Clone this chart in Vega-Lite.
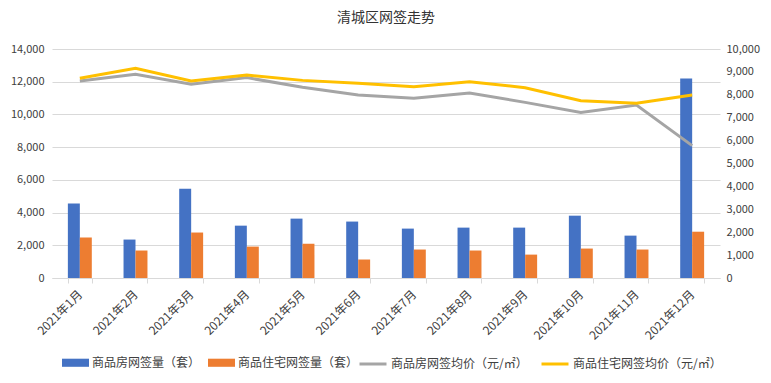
{
  "$schema": "https://vega.github.io/schema/vega-lite/v6.json",
  "width": 668,
  "height": 229,
  "autosize": {"type": "none"},
  "padding": {"left": 52, "top": 49, "right": 51, "bottom": 105},
  "background": "white",
  "title": {"text": "清城区网签走势", "fontSize": 14, "font": "Noto Sans CJK SC", "fontWeight": "normal", "color": "#333333", "offset": 18, "anchor": "middle"},
  "config": {"view": {"stroke": null}, "font": "Noto Sans CJK SC"},
  "datasets": {
    "bars": [
      {"month": "2021年1月", "series": "商品房网签量（套）", "value": 4550},
      {"month": "2021年1月", "series": "商品住宅网签量（套）", "value": 2480},
      {"month": "2021年2月", "series": "商品房网签量（套）", "value": 2350},
      {"month": "2021年2月", "series": "商品住宅网签量（套）", "value": 1680},
      {"month": "2021年3月", "series": "商品房网签量（套）", "value": 5460},
      {"month": "2021年3月", "series": "商品住宅网签量（套）", "value": 2780},
      {"month": "2021年4月", "series": "商品房网签量（套）", "value": 3200},
      {"month": "2021年4月", "series": "商品住宅网签量（套）", "value": 1920},
      {"month": "2021年5月", "series": "商品房网签量（套）", "value": 3630},
      {"month": "2021年5月", "series": "商品住宅网签量（套）", "value": 2100},
      {"month": "2021年6月", "series": "商品房网签量（套）", "value": 3450},
      {"month": "2021年6月", "series": "商品住宅网签量（套）", "value": 1130},
      {"month": "2021年7月", "series": "商品房网签量（套）", "value": 3020},
      {"month": "2021年7月", "series": "商品住宅网签量（套）", "value": 1740},
      {"month": "2021年8月", "series": "商品房网签量（套）", "value": 3080},
      {"month": "2021年8月", "series": "商品住宅网签量（套）", "value": 1680},
      {"month": "2021年9月", "series": "商品房网签量（套）", "value": 3080},
      {"month": "2021年9月", "series": "商品住宅网签量（套）", "value": 1430},
      {"month": "2021年10月", "series": "商品房网签量（套）", "value": 3810},
      {"month": "2021年10月", "series": "商品住宅网签量（套）", "value": 1800},
      {"month": "2021年11月", "series": "商品房网签量（套）", "value": 2590},
      {"month": "2021年11月", "series": "商品住宅网签量（套）", "value": 1740},
      {"month": "2021年12月", "series": "商品房网签量（套）", "value": 12190},
      {"month": "2021年12月", "series": "商品住宅网签量（套）", "value": 2830}
    ],
    "lines": [
      {"month": "2021年1月", "series": "商品房网签均价（元/㎡）", "value": 8600},
      {"month": "2021年1月", "series": "商品住宅网签均价（元/㎡）", "value": 8720},
      {"month": "2021年2月", "series": "商品房网签均价（元/㎡）", "value": 8900},
      {"month": "2021年2月", "series": "商品住宅网签均价（元/㎡）", "value": 9160},
      {"month": "2021年3月", "series": "商品房网签均价（元/㎡）", "value": 8460},
      {"month": "2021年3月", "series": "商品住宅网签均价（元/㎡）", "value": 8600},
      {"month": "2021年4月", "series": "商品房网签均价（元/㎡）", "value": 8750},
      {"month": "2021年4月", "series": "商品住宅网签均价（元/㎡）", "value": 8860},
      {"month": "2021年5月", "series": "商品房网签均价（元/㎡）", "value": 8330},
      {"month": "2021年5月", "series": "商品住宅网签均价（元/㎡）", "value": 8630},
      {"month": "2021年6月", "series": "商品房网签均价（元/㎡）", "value": 7990},
      {"month": "2021年6月", "series": "商品住宅网签均价（元/㎡）", "value": 8500},
      {"month": "2021年7月", "series": "商品房网签均价（元/㎡）", "value": 7850},
      {"month": "2021年7月", "series": "商品住宅网签均价（元/㎡）", "value": 8350},
      {"month": "2021年8月", "series": "商品房网签均价（元/㎡）", "value": 8080},
      {"month": "2021年8月", "series": "商品住宅网签均价（元/㎡）", "value": 8570},
      {"month": "2021年9月", "series": "商品房网签均价（元/㎡）", "value": 7670},
      {"month": "2021年9月", "series": "商品住宅网签均价（元/㎡）", "value": 8310},
      {"month": "2021年10月", "series": "商品房网签均价（元/㎡）", "value": 7230},
      {"month": "2021年10月", "series": "商品住宅网签均价（元/㎡）", "value": 7740},
      {"month": "2021年11月", "series": "商品房网签均价（元/㎡）", "value": 7550},
      {"month": "2021年11月", "series": "商品住宅网签均价（元/㎡）", "value": 7630},
      {"month": "2021年12月", "series": "商品房网签均价（元/㎡）", "value": 5780},
      {"month": "2021年12月", "series": "商品住宅网签均价（元/㎡）", "value": 7990}
    ]
  },
  "layer": [
    {
      "data": {"name": "bars"},
      "mark": {"type": "bar"},
      "encoding": {
        "x": {
          "field": "month", "type": "nominal", "sort": null,
          "scale": {"domain": ["2021年1月","2021年2月","2021年3月","2021年4月","2021年5月","2021年6月","2021年7月","2021年8月","2021年9月","2021年10月","2021年11月","2021年12月"], "paddingInner": 0.57, "paddingOuter": 0.285},
          "axis": {"title": null, "orient": "bottom", "labelAngle": -45, "labelAlign": "right", "labelBaseline": "middle", "labelPadding": 9, "labelFontSize": 12, "labelColor": "#404040", "tickBand": "extent", "tickSize": 5, "tickColor": "#D9D9D9", "domainColor": "#D9D9D9", "labelOverlap": false, "grid": false}
        },
        "xOffset": {"field": "series", "type": "nominal", "sort": ["商品房网签量（套）", "商品住宅网签量（套）"], "scale": {"paddingInner": 0, "paddingOuter": 0}},
        "y": {
          "field": "value", "type": "quantitative",
          "scale": {"domain": [0, 14000], "nice": false},
          "axis": {"title": null, "orient": "left", "values": [0,2000,4000,6000,8000,10000,12000,14000], "format": ",d", "grid": true, "gridColor": "#D9D9D9", "domain": false, "ticks": false, "labelPadding": 8, "labelFontSize": 11, "labelColor": "#404040"}
        },
        "fill": {
          "field": "series", "type": "nominal",
          "scale": {"domain": ["商品房网签量（套）", "商品住宅网签量（套）"], "range": ["#4472C4", "#ED7D31"]},
          "legend": {"title": null, "orient": "none", "legendX": 10, "legendY": 300, "direction": "horizontal", "columns": 2, "padding": 0, "symbolType": "M-1,-0.3H1V0.3H-1Z", "symbolSize": 729, "symbolStrokeWidth": 0, "labelFontSize": 12, "labelColor": "#404040", "labelOffset": 3, "columnPadding": 7}
        }
      }
    },
    {
      "data": {"name": "lines"},
      "mark": {"type": "line", "strokeWidth": 3},
      "encoding": {
        "x": {"field": "month", "type": "nominal", "sort": null,
          "axis": {"title": null, "orient": "bottom", "labelAngle": -45, "labelAlign": "right", "labelBaseline": "middle", "labelPadding": 9, "labelFontSize": 12, "labelColor": "#404040", "tickBand": "extent", "tickSize": 5, "tickColor": "#D9D9D9", "domainColor": "#D9D9D9", "labelOverlap": false, "grid": false}
        },
        "y": {
          "field": "value", "type": "quantitative",
          "scale": {"domain": [0, 10000], "nice": false},
          "axis": {"title": null, "orient": "right", "values": [0,1000,2000,3000,4000,5000,6000,7000,8000,9000,10000], "format": ",d", "grid": false, "domain": false, "ticks": false, "labelPadding": 6, "labelFontSize": 11, "labelColor": "#404040"}
        },
        "stroke": {
          "field": "series", "type": "nominal",
          "scale": {"domain": ["商品房网签均价（元/㎡）", "商品住宅网签均价（元/㎡）"], "range": ["#A5A5A5", "#FFC000"]},
          "legend": {"title": null, "orient": "none", "legendX": 306, "legendY": 300, "direction": "horizontal", "columns": 2, "padding": 0, "symbolType": "stroke", "symbolSize": 729, "symbolStrokeWidth": 3, "labelFontSize": 12, "labelColor": "#404040", "labelOffset": 3, "columnPadding": 7}
        }
      }
    }
  ],
  "resolve": {"scale": {"y": "independent"}}
}
